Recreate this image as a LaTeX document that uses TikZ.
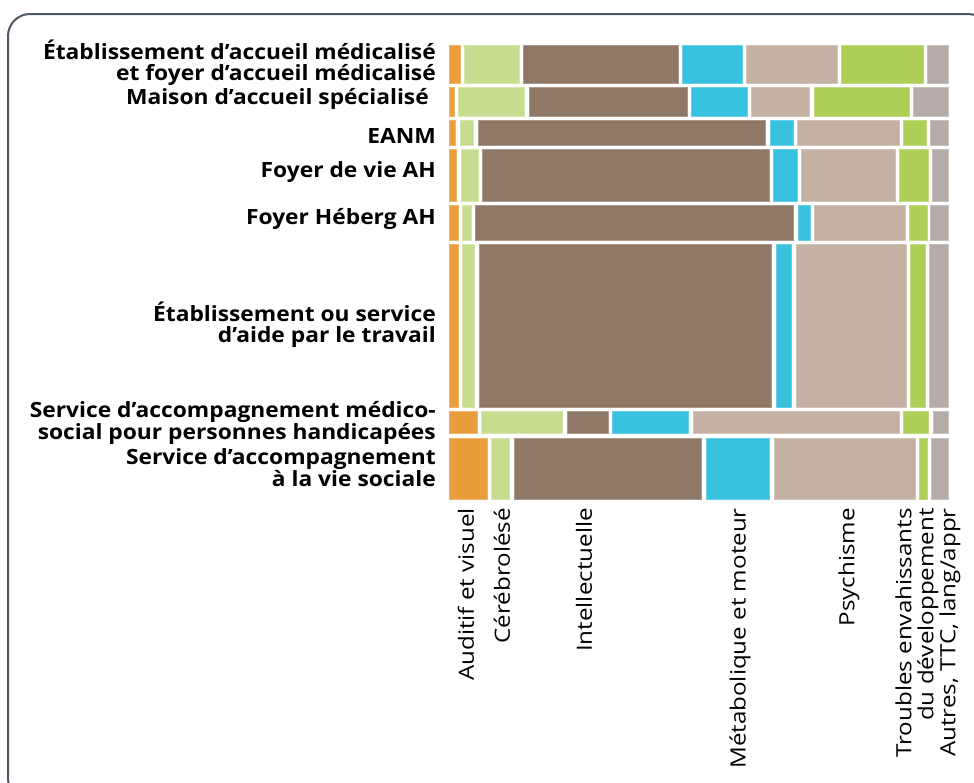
\documentclass[tikz,border=0pt]{standalone}
\usepackage{fontspec}
\setmainfont{Open Sans}
\newfontfamily\rowfont{Open Sans}[FakeStretch=1.085]
\newfontfamily\colfont{Open Sans}[FakeStretch=1.15]
\definecolor{aud}{HTML}{E99D3B}
\definecolor{ceb}{HTML}{C8DC8F}
\definecolor{int}{HTML}{8F7866}
\definecolor{met}{HTML}{37C1DF}
\definecolor{psy}{HTML}{C4B1A3}
\definecolor{ted}{HTML}{AECF57}
\definecolor{aut}{HTML}{B5ACA9}
\definecolor{cadre}{HTML}{4E5766}
\tikzset{
  rowlab/.style={anchor=east, align=right, font=\fontsize{21}{21}\rowfont\bfseries, inner sep=0pt},
  collab/.style={anchor=east, rotate=90, align=right, font=\fontsize{21}{22}\colfont, inner sep=0pt},
  cell/.style={fill=#1, draw=#1!75!white, line width=0.6pt}
}
\begin{document}
\begin{tikzpicture}[x=1pt, y=-1pt]
\useasboundingbox (0,0) rectangle (974,782);
\draw [cadre, line width=2pt, rounded corners=22pt] (8,14) rectangle (990,800);
% EAM / FAM
\foreach \c/\a/\b in {aud/449/460, ceb/464/519, int/523/678, met/682/742, psy/746/837, ted/841/923, aut/927/948}
  \draw [cell=\c] (\a,45) rectangle (\b,83);
% MAS
\foreach \c/\a/\b in {aud/449/454, ceb/458/524, int/529/687, met/691/747, psy/751/809, ted/814/909, aut/913/948}
  \draw [cell=\c] (\a,87) rectangle (\b,116);
% EANM
\foreach \c/\a/\b in {aud/449/455, ceb/460/473, int/478/765, met/770/793, psy/797/899, ted/903/926, aut/930/948}
  \draw [cell=\c] (\a,120) rectangle (\b,145);
% Foyer de vie
\foreach \c/\a/\b in {aud/449/456, ceb/461/478, int/482/769, met/773/797, psy/801/895, ted/899/928, aut/932/948}
  \draw [cell=\c] (\a,149) rectangle (\b,201);
% Foyer hebergement
\foreach \c/\a/\b in {aud/449/458, ceb/462/471, int/475/793, met/798/810, psy/814/905, ted/909/927, aut/930/948}
  \draw [cell=\c] (\a,205) rectangle (\b,240);
% ESAT
\foreach \c/\a/\b in {aud/449/458, ceb/462/474, int/479/771, met/776/791, psy/796/906, ted/910/925, aut/929/948}
  \draw [cell=\c] (\a,244) rectangle (\b,407);
% SAMSAH
\foreach \c/\a/\b in {aud/449/477, ceb/481/562, int/567/608, met/612/688, psy/693/899, ted/903/928, aut/933/948}
  \draw [cell=\c] (\a,411) rectangle (\b,433);
% SAVS
\foreach \c/\a/\b in {aud/449/487, ceb/491/509, int/514/701, met/706/769, psy/774/915, ted/919/927, aut/931/948}
  \draw [cell=\c] (\a,438) rectangle (\b,499);
% etiquettes des lignes
\node [rowlab] (eam) at (436,62.5) {Établissement d’accueil médicalisé\\et foyer d’accueil médicalisé};
\node [rowlab] (mas) at (429,99) {Maison d’accueil spécialisé};
\node [rowlab] (eanm) at (436,136) {EANM};
\node [rowlab] (fv) at (436,172) {Foyer de vie AH};
\node [rowlab] (fh) at (436,219) {Foyer Héberg AH};
\node [rowlab] (esat) at (436,324.5) {Établissement ou service\\d’aide par le travail};
\node [rowlab] (samsah) at (436,423) {Service d’accompagnement médico-\\social pour personnes handicapées};
\node [rowlab] (savs) at (436,467.5) {Service d’accompagnement\\à la vie sociale};
% etiquettes des colonnes
\node [collab] (aud) at (466,508) {Auditif et visuel};
\node [collab] (ceb) at (502,508) {Cérébrolésé};
\node [collab] (int) at (584,508) {Intellectuelle};
\node [collab] (met) at (740,508) {Métabolique et moteur};
\node [collab] (psy) at (849,508) {Psychisme};
\node [collab] (ted) at (917,508) {Troubles envahissants\\du développement};
\node [collab] (aut) at (950,508) {Autres, TTC, lang/appr};
\end{tikzpicture}
\end{document}
